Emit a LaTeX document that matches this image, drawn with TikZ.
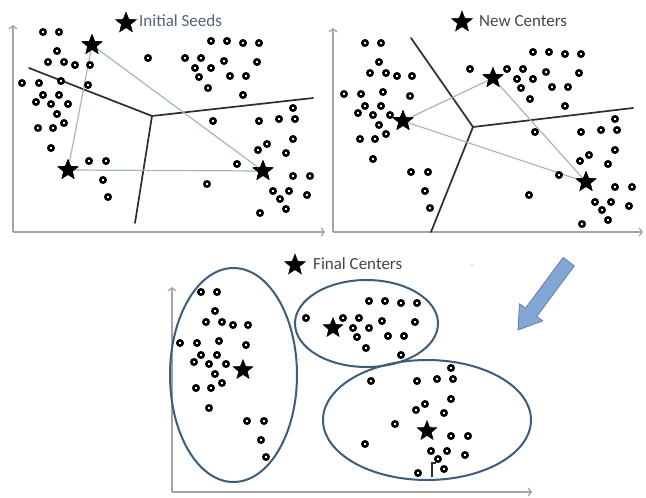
\documentclass[tikz,border=0pt]{standalone}
\usepackage{fontspec}
\newfontfamily\lbl{Carlito}
\usetikzlibrary{shapes.geometric,arrows.meta}
\definecolor{axisc}{RGB}{165,165,165}
\definecolor{linkc}{RGB}{160,182,200}
\definecolor{cutc}{RGB}{45,45,45}
\definecolor{ringc}{RGB}{62,92,124}
\definecolor{seedtxt}{RGB}{85,98,118}
\definecolor{titletxt}{RGB}{70,70,70}
\definecolor{arrowfill}{RGB}{132,166,212}
\definecolor{arrowline}{RGB}{95,128,170}
\begin{document}
\begin{tikzpicture}[x=1pt,y=-1pt,
  datapt/.style={draw=black,line width=2.5pt,fill=white},
  ctr/.style={star,star points=5,star point ratio=2.3,fill=black,draw=black,
    minimum size=21pt,inner sep=0pt},
  axisline/.style={draw=axisc,line width=1.3pt,-{Straight Barb[length=3pt,width=8pt]}},
  link/.style={draw=linkc,line width=1.2pt},
  cut/.style={draw=cutc,line width=1.7pt,line cap=round},
  ring/.style={draw=ringc,line width=2pt},
  ttl/.style={anchor=west,inner sep=0pt,font=\lbl\fontsize{17}{20}\selectfont}]
\useasboundingbox (0,0) rectangle (646,498);

% the same point cloud is drawn in each of the three panels
\def\cloud{43/32,59/32,57/51,48/62,64/62,75/65,90/65,22/83,39/83,61/81,88/85,
  43/95,59/95,36/102,51/104,68/104,57/114,38/128,53/128,64/123,51/148,
  89/161,106/161,103/180,108/197,148/58,
  211/41,227/41,243/43,259/43,185/58,201/58,224/61,257/62,195/68,211/68,
  199/77,230/76,246/76,208/88,243/95,213/121,
  293/108,259/121,279/119,295/119,293/139,258/150,267/144,286/153,237/164,
  293/176,310/176,207/184,273/191,289/191,280/199,307/195,286/209,260/213}
\newcommand\drawcloud{\foreach \px/\py in \cloud {\draw[datapt] (\px,\py) circle[radius=2.7pt];}}

% ---------- panel 1: initial seeds ----------
\coordinate (o1) at (13,232);
\coordinate (x1) at (325,232);
\coordinate (y1) at (13,25);
\draw[axisline] (o1) -- (y1);
\draw[axisline] (o1) -- (x1);
\coordinate (m1) at (152,116);
\coordinate (e1a) at (29,68);
\coordinate (e1b) at (313,98);
\coordinate (e1c) at (135,223);
\draw[cut] (e1a) -- (m1) -- (e1b);
\draw[cut] (m1) -- (e1c);
\node[ctr] (s1a) at (92,45) {};
\node[ctr] (s1b) at (68,170) {};
\node[ctr] (s1c) at (263,171) {};
\draw[link] (s1a.center) -- (s1b.center);
\draw[link] (s1a.center) -- (s1c.center);
\draw[link] (s1b.center) -- (s1c.center);
\drawcloud
\node[ctr] at (s1a) {};
\node[ctr] at (s1b) {};
\node[ctr] at (s1c) {};
\node[ctr,minimum size=22pt] (k1) at (126,23) {};
\node[ttl,text=seedtxt] (t1) at (139,21) {Initial Seeds};

% ---------- panel 2: new centers ----------
\coordinate (o2) at (333,232);
\coordinate (x2) at (643,232);
\coordinate (y2) at (333,28);
\draw[axisline] (o2) -- (y2);
\draw[axisline] (o2) -- (x2);
\coordinate (m2) at (473,127);
\coordinate (e2a) at (411,38);
\coordinate (e2b) at (633,108);
\coordinate (e2c) at (431,232);
\draw[cut] (e2a) -- (m2) -- (e2b);
\draw[cut] (m2) -- (e2c);
\node[ctr] (s2a) at (403,121) {};
\node[ctr] (s2b) at (493,78) {};
\node[ctr] (s2c) at (586,182) {};
\draw[link] (s2a.center) -- (s2b.center);
\draw[link] (s2a.center) -- (s2c.center);
\draw[link] (s2b.center) -- (s2c.center);
\begin{scope}[shift={(322,11)}]
  \drawcloud
\end{scope}
\node[ctr] at (s2a) {};
\node[ctr] at (s2b) {};
\node[ctr] at (s2c) {};
\node[ctr,minimum size=22pt] (k2) at (462,22) {};
\node[ttl,text=titletxt] (t2) at (479,21) {New Centers};

% ---------- panel 3: final centers ----------
\coordinate (o3) at (172,492);
\coordinate (x3) at (532,492);
\coordinate (y3) at (172,287);
\draw[axisline] (o3) -- (y3);
\draw[axisline] (o3) -- (x3);
\begin{scope}[shift={(158,260)}]
  \drawcloud
\end{scope}
\draw[ring] (233.5,375) ellipse[x radius=63.5pt,y radius=107pt];
\draw[ring] (366.5,323.5) ellipse[x radius=71.5pt,y radius=43.5pt];
\draw[ring] (427,420) ellipse[x radius=104pt,y radius=60pt];
\draw[cutc,line width=1.3pt] (432,477) -- (432,463) -- (436,463);
\node[ctr] (s3a) at (243,370) {};
\node[ctr] (s3b) at (333,328) {};
\node[ctr] (s3c) at (427,431) {};
\node[ctr,minimum size=22pt] (k3) at (295,265) {};
\node[ttl,text=titletxt] (t3) at (313,264) {Final Centers};
\fill[gray!50] (472,265) circle[radius=0.8pt];

% ---------- block arrow between the rows ----------
\draw[fill=arrowfill,draw=arrowline,line width=0.8pt,line join=round]
  (563.1,257.5) -- (574.3,265.9) -- (536.7,316.5) -- (542.7,320.9)
  -- (518,330) -- (519.5,303.7) -- (525.5,308.1) -- cycle;
\end{tikzpicture}
\end{document}
